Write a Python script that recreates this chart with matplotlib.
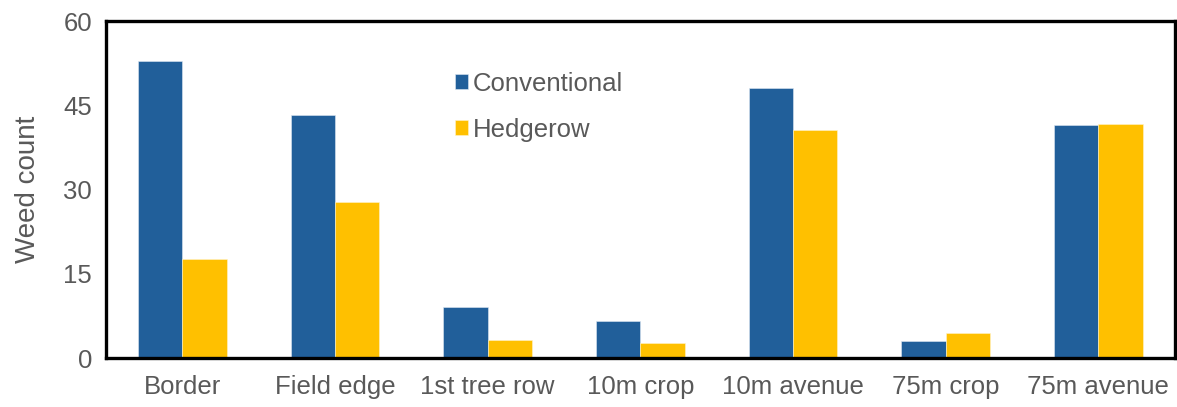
import numpy as np
import matplotlib.pyplot as plt

plt.rcParams['font.family'] = ['Liberation Sans', 'DejaVu Sans']

categories = ['Border', 'Field edge', '1st tree row', '10m crop', '10m avenue', '75m crop', '75m avenue']
conventional = [52.9, 43.3, 9.1, 6.6, 48.1, 3.1, 41.5]
hedgerow = [17.6, 27.8, 3.2, 2.7, 40.6, 4.4, 41.7]

blue = '#215F9A'
yellow = '#FFC000'
grey = '#595959'

fig = plt.figure(figsize=(11.77, 4.07), dpi=100)
ax = fig.add_axes([0.090, 0.120, 0.908, 0.828])

x = np.arange(len(categories))
w = 0.29
ax.bar(x - w / 2, conventional, w, color=blue, label='Conventional', edgecolor='#dfe8f2', linewidth=0.4)
ax.bar(x + w / 2, hedgerow, w, color=yellow, label='Hedgerow', edgecolor='#fff3cc', linewidth=0.4)

ax.set_xlim(-0.5, len(categories) - 0.5)
ax.set_ylim(0, 60)
ax.set_yticks([0, 15, 30, 45, 60])
ax.set_xticks(x)
ax.set_xticklabels(categories)
ax.tick_params(length=0, labelsize=18.5, labelcolor=grey, pad=12)
ax.tick_params(axis='y', pad=10)
ax.set_ylabel('Weed count', fontsize=20, color=grey, labelpad=16)

for s in ax.spines.values():
    s.set_linewidth(2.4)
    s.set_color('black')

ax.legend(loc='upper left', bbox_to_anchor=(0.305, 0.918), frameon=False, fontsize=18.5,
          handlelength=0.5, handleheight=0.5, handletextpad=0.2, labelspacing=0.85,
          labelcolor=grey)

fig.savefig('out.png', dpi=100)
